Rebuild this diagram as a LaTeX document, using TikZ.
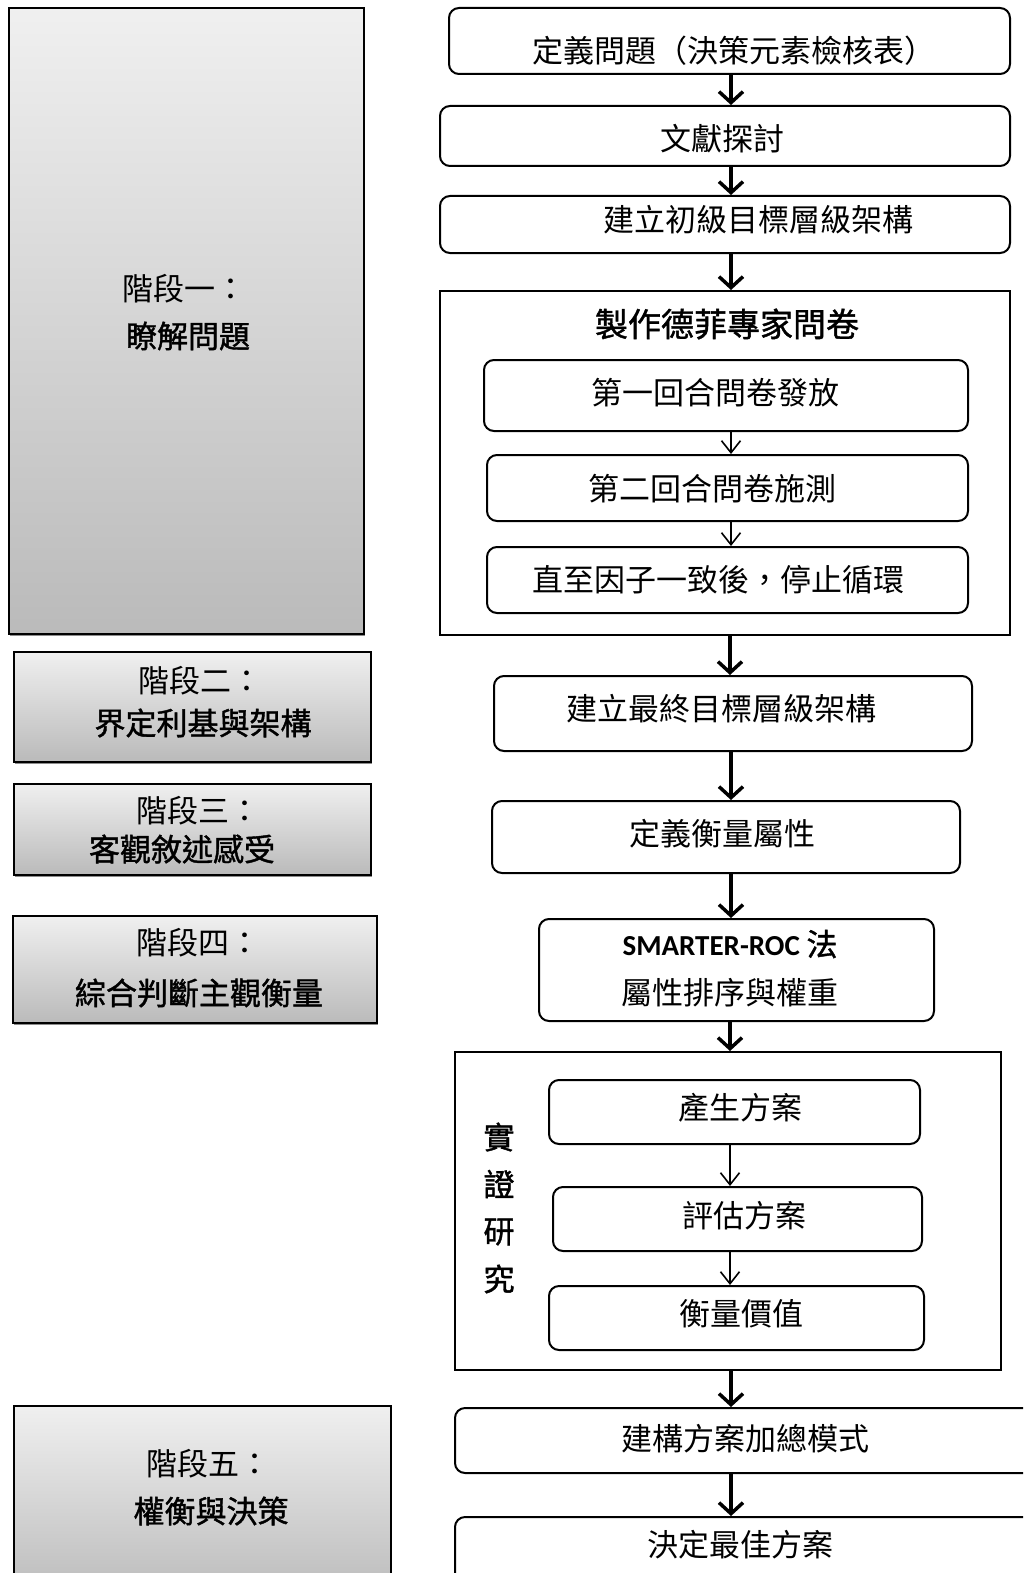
\documentclass[tikz,border=0pt]{standalone}
\usepackage{fontspec}
\newfontfamily\cjk[BoldFont={Noto Sans CJK TC},BoldFeatures={FakeBold=1.3}]{Noto Sans CJK TC}
\newfontfamily\latb{Carlito}
\usetikzlibrary{arrows.meta,calc}
\begin{document}
\begin{tikzpicture}[x=1pt,y=-1pt,
  stagebox/.style={draw=black,line width=1.6pt,top color=black!6,bottom color=black!27,inner sep=0pt,anchor=north west},
  rbox/.style={draw=black,line width=2pt,rounded corners=10pt,fill=white,inner sep=0pt,anchor=north west},
  framebox/.style={draw=black,line width=2pt,inner sep=0pt,anchor=north west},
  lt/.style={font=\cjk\fontsize{31}{36}\selectfont,inner sep=0pt},
  bt/.style={font=\cjk\bfseries\fontsize{31}{36}\selectfont,inner sep=0pt},
  thk/.style={line width=3.5pt,-{Straight Barb[length=11pt,width=24pt]}},
  thn/.style={line width=1.6pt,-{Straight Barb[length=12pt,width=19pt]}},
  shadowline/.style={fill=black!45}
]
\useasboundingbox (0,0) rectangle (1023,1573);
\clip (0,0) rectangle (1023,1573);
\fill[white] (0,0) rectangle (1023,1573);
\coordinate (ax) at (731,0);
\coordinate (tx) at (730,0);

% ---- stage boxes (left) ----
\newcommand{\stg}[5]{% name, x1, y1, x2, y2
  \fill[shadowline] (#2+2,#5) rectangle (#4+2,#5+3);
  \node[stagebox,minimum width=#4-#2,minimum height=#5-#3] (#1) at (#2,#3) {};}
\stg{s1}{8}{7}{363}{633}
\stg{s2}{13}{651}{370}{761}
\stg{s3}{13}{783}{370}{874}
\stg{s4}{12}{915}{376}{1022}
\stg{s5}{13}{1405}{390}{1600}

\node[lt] (s1a) at (184,289) {階段一：};
\node[bt] (s1b) at (188,336) {瞭解問題};
\node[lt] (s2a) at (200,681) {階段二：};
\node[bt] (s2b) at (203,723) {界定利基與架構};
\node[lt] (s3a) at (198,811) {階段三：};
\node[bt] (s3b) at (182,849) {客觀敘述感受};
\node[lt] (s4a) at (198,943) {階段四：};
\node[bt] (s4b) at (199,993) {綜合判斷主觀衡量};
\node[lt] (s5a) at (208,1464) {階段五：};
\node[bt] (s5b) at (211,1511) {權衡與決策};

% ---- right column ----
\node[rbox,minimum width=561,minimum height=66] (b1) at (448,7) {};
\node[rbox,minimum width=570,minimum height=60] (b2) at (439,105) {};
\node[rbox,minimum width=570,minimum height=57] (b3) at (439,195) {};
\node[framebox,minimum width=570,minimum height=344] (f1) at (439,290) {};
\node[rbox,minimum width=484,minimum height=71] (d1) at (483,359) {};
\node[rbox,minimum width=481,minimum height=66] (d2) at (486,454) {};
\node[rbox,minimum width=481,minimum height=66] (d3) at (486,546) {};
\node[rbox,minimum width=478,minimum height=75] (b4) at (493,675) {};
\node[rbox,minimum width=468,minimum height=72] (b5) at (491,800) {};
\node[rbox,minimum width=395,minimum height=102] (b6) at (538,918) {};
\node[framebox,minimum width=546,minimum height=318] (f2) at (454,1051) {};
\node[rbox,minimum width=371,minimum height=64] (e1) at (548,1079) {};
\node[rbox,minimum width=369,minimum height=64] (e2) at (552,1186) {};
\node[rbox,minimum width=375,minimum height=64] (e3) at (548,1285) {};
\node[rbox,minimum width=600,minimum height=65] (b7) at (454,1407) {};
\node[rbox,minimum width=600,minimum height=80] (b8) at (454,1516) {};

\node[lt] (t1) at (734,51) {定義問題（決策元素檢核表）};
\node[lt] (t2) at (722,139) {文獻探討};
\node[lt] (t3) at (758,220) {建立初級目標層級架構};
\node[bt,font=\cjk\bfseries\fontsize{33}{38}\selectfont] (tf1) at (727,324) {製作德菲專家問卷};
\node[lt] (td1) at (715,393) {第一回合問卷發放};
\node[lt] (td2) at (712,489) {第二回合問卷施測};
\node[lt] (td3) at (718,580) {直至因子一致後，停止循環};
\node[lt] (t4) at (721,709) {建立最終目標層級架構};
\node[lt] (t5) at (722,834) {定義衡量屬性};
\node[inner sep=0pt] (t6a) at (730,944) {\latb\bfseries\fontsize{29}{34}\selectfont SMARTER-ROC \cjk\bfseries\fontsize{31}{36}\selectfont 法};
\node[lt] (t6b) at (730,993) {屬性排序與權重};
\node[bt] (tv1) at (499,1137) {實};
\node[bt] (tv2) at (499,1184) {證};
\node[bt] (tv3) at (499,1232) {研};
\node[bt] (tv4) at (499,1279) {究};
\node[lt] (te1) at (740,1108) {產生方案};
\node[lt] (te2) at (744,1216) {評估方案};
\node[lt] (te3) at (741,1314) {衡量價值};
\node[lt] (t7) at (745,1439) {建構方案加總模式};
\node[lt] (t8) at (740,1545) {決定最佳方案};

% ---- arrows ----
\draw[thk] (b1.south -| ax) -- (b2.north -| ax);
\draw[thk] (b2.south -| ax) -- (b3.north -| ax);
\draw[thk] (b3.south -| ax) -- (f1.north -| ax);
\draw[thn] (d1.south -| ax) -- (d2.north -| ax);
\draw[thn] (d2.south -| ax) -- (d3.north -| ax);
\draw[thk] (f1.south -| tx) -- (b4.north -| tx);
\draw[thk] (b4.south -| ax) -- (b5.north -| ax);
\draw[thk] (b5.south -| ax) -- (b6.north -| ax);
\draw[thk] (b6.south -| tx) -- (f2.north -| tx);
\draw[thn] (e1.south -| tx) -- (e2.north -| tx);
\draw[thn] (e2.south -| tx) -- (e3.north -| tx);
\draw[thk] (f2.south -| ax) -- (b7.north -| ax);
\draw[thk] (b7.south -| ax) -- (b8.north -| ax);
\end{tikzpicture}
\end{document}
